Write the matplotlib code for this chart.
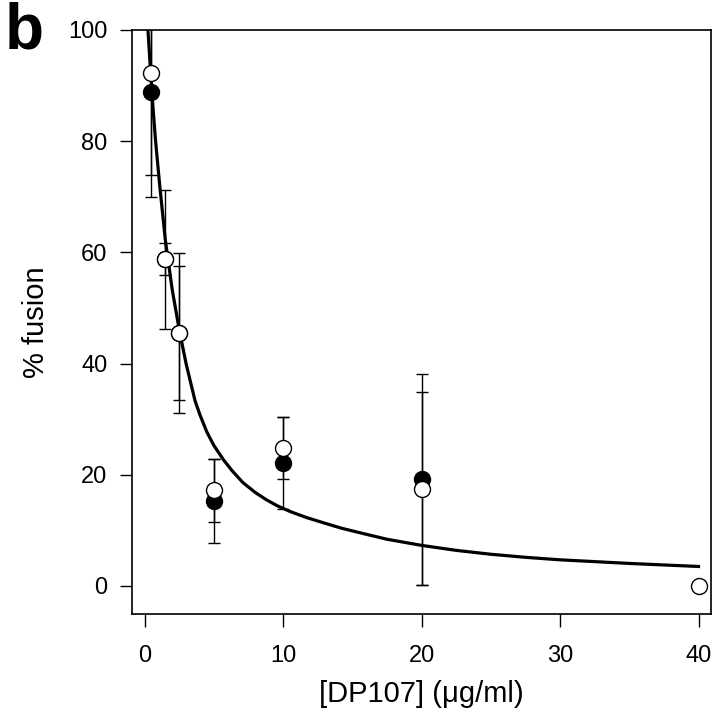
import matplotlib as mpl
mpl.use('Agg')
import matplotlib.pyplot as plt

plt.rcParams['font.family'] = ['Liberation Sans', 'DejaVu Sans']

# doses of DP107 (ug/ml)
dose = [0.5, 1.5, 2.5, 5, 10, 20, 40]

# filled circles
fill_y = [88.9, 58.8, 45.5, 15.3, 22.1, 19.2, 0.0]
fill_err = [18.9, 2.8, 12.0, 7.5, 8.3, 19.0, 0.0]

# open circles
open_y = [92.3, 58.8, 45.5, 17.2, 24.8, 17.5, 0.0]
open_err = [18.3, 12.5, 14.4, 5.7, 5.6, 17.4, 0.0]

# fitted curve
curve_x = [0.2, 0.4, 0.6, 0.8, 1.1, 1.5, 2.0, 2.5, 3.0, 3.65, 4.0, 4.5,
           5.0, 5.7, 6.3, 7.1, 8.0, 8.8, 9.6, 10.5, 11.7, 13, 14.2, 15.5,
           17.5, 20, 22.5, 25, 27.5, 30, 35, 40]
curve_y = [102, 94, 86.5, 80, 72, 62.3, 53.3, 46.2, 40, 33.3, 30.8, 27.7,
           25.3, 22.7, 20.8, 18.6, 16.8, 15.5, 14.4, 13.4, 12.3, 11.3, 10.4,
           9.6, 8.4, 7.3, 6.4, 5.7, 5.15, 4.7, 4.05, 3.5]

fig = plt.figure(figsize=(7.2, 7.17), dpi=100)
ax = fig.add_axes([0.183, 0.1437, 0.8045, 0.8145])

ax.plot(curve_x, curve_y, color='black', lw=2.3, zorder=2,
        solid_joinstyle='round')

ax.errorbar(dose, fill_y, yerr=fill_err, fmt='none', ecolor='black',
            elinewidth=1, capsize=4.5, capthick=1, zorder=3)
ax.errorbar(dose, open_y, yerr=open_err, fmt='none', ecolor='black',
            elinewidth=1, capsize=4.5, capthick=1, zorder=3)

ax.plot(dose[:-1], fill_y[:-1], 'o', ms=11.5, mfc='black', mec='black',
        mew=1, zorder=4)
ax.plot(dose, open_y, 'o', ms=11.5, mfc='white', mec='black',
        mew=1, zorder=5)

ax.set_xlim(-0.92, 40.9)
ax.set_ylim(-5.04, 100)
ax.set_xticks([0, 10, 20, 30, 40])
ax.set_yticks([0, 20, 40, 60, 80, 100])

for s in ax.spines.values():
    s.set_linewidth(1.2)

ax.tick_params(axis='both', direction='out', length=9, width=1,
               labelsize=17)
ax.tick_params(axis='x', pad=13)
ax.tick_params(axis='y', pad=8.5)

ax.set_xlabel('[DP107] (μg/ml)', fontsize=21, labelpad=10)
ax.set_ylabel('% fusion', fontsize=21, labelpad=13)

fig.text(0.007, 0.932, 'b', fontsize=46, fontweight='bold',
         ha='left', va='baseline')

plt.savefig('out.png', dpi=100)
